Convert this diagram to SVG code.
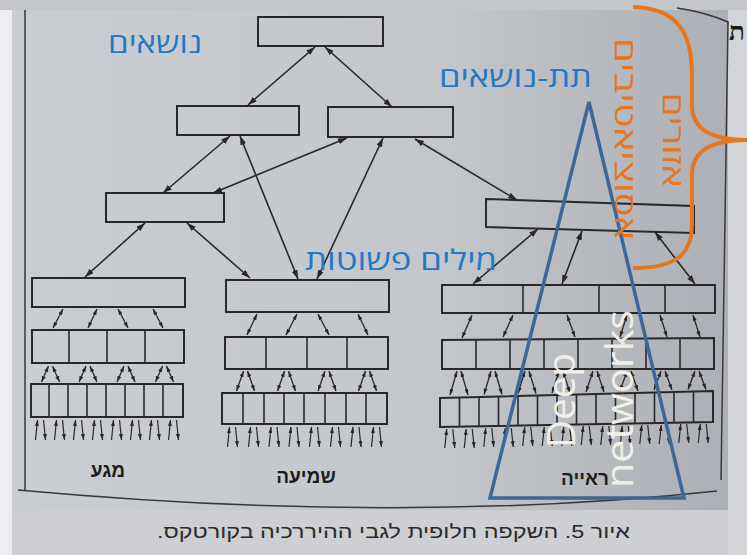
<svg xmlns="http://www.w3.org/2000/svg" width="747" height="555" viewBox="0 0 747 555">
<defs>
<linearGradient id="pg" x1="0" y1="0" x2="1" y2="0">
<stop offset="0" stop-color="#cacdd1"/>
<stop offset="0.6" stop-color="#c3c6ca"/>
<stop offset="1" stop-color="#acb0b6"/>
</linearGradient>
<marker id="ah" markerUnits="userSpaceOnUse" markerWidth="9" markerHeight="6" refX="9" refY="3" orient="auto-start-reverse"><path d="M0,0 L9,3 L0,6 z" fill="#2b2729"/></marker>
<marker id="as" markerUnits="userSpaceOnUse" markerWidth="6" markerHeight="4" refX="6" refY="2" orient="auto-start-reverse"><path d="M0,0 L6,2 L0,4 z" fill="#2b2729"/></marker>
<style>
.bx{fill:none;stroke:#2b2729;stroke-width:2}
.dv{stroke:#2b2729;stroke-width:1.6}
.cn{stroke:#2b2729;stroke-width:1.6;marker-start:url(#ah);marker-end:url(#ah)}
.sm{stroke:#2b2729;stroke-width:1.3;marker-start:url(#as);marker-end:url(#as)}
.one{stroke:#2b2729;stroke-width:1.2;marker-end:url(#as)}
.blue{font-family:"Open Sans","DejaVu Sans","Liberation Sans",sans-serif;fill:#1f79c6;font-size:28px}
.org{font-family:"Open Sans","DejaVu Sans","Liberation Sans",sans-serif;fill:#e8761e;font-size:28px}
.lab{font-family:"Liberation Sans","DejaVu Sans",sans-serif;font-weight:bold;fill:#1e1c1d;font-size:19px;text-anchor:middle}
.cap{font-family:"Liberation Sans","DejaVu Sans",sans-serif;fill:#2a2a2a;font-size:19px}
.dn{font-family:"Open Sans","DejaVu Sans",sans-serif;fill:#f2efe6;font-size:39px}
</style>
</defs>
<g id="background">
<rect width="747" height="555" fill="#cdcfd2"/>
<rect x="12" y="10" width="716" height="500" fill="url(#pg)"/>
<rect x="0" y="10" width="12" height="545" fill="#eeeef0"/>
<rect x="0" y="0" width="747" height="10" fill="#c4c6ca"/>
<rect x="728" y="10" width="19" height="545" fill="#d2d4d7"/>
<line x1="25" y1="10" x2="25" y2="490" stroke="#3a3638" stroke-width="1.5"/>
<path d="M18,490 Q400,525 717,491" fill="none" stroke="#3a3638" stroke-width="1.5"/>
<path d="M677,8 Q705,12 728,22 L721,480" fill="none" stroke="#3a3638" stroke-width="1.5"/>
<text x="729" y="40" font-family="Liberation Serif,serif" font-weight="bold" font-size="26" fill="#1a1a1a">ת</text>
</g>
<g id="connectors">
<line class="cn" x1="315" y1="47" x2="248" y2="105"/>
<line class="cn" x1="325" y1="47" x2="392" y2="107"/>
<line class="cn" x1="230" y1="136" x2="163" y2="193"/>
<line class="cn" x1="240" y1="136" x2="298" y2="279"/>
<line class="cn" x1="347" y1="138" x2="213" y2="193"/>
<line class="cn" x1="383" y1="138" x2="317" y2="279"/>
<line class="cn" x1="415" y1="139" x2="517" y2="200"/>
<line class="cn" x1="145" y1="223" x2="85" y2="277"/>
<line class="cn" x1="187" y1="223" x2="250" y2="278"/>
<line class="cn" x1="538" y1="229" x2="473" y2="284"/>
<line class="cn" x1="582" y1="231" x2="562" y2="284"/>
<line class="cn" x1="655" y1="232" x2="695" y2="284"/>
<line class="sm" x1="63" y1="309" x2="53" y2="328"/>
<line class="sm" x1="97" y1="309" x2="88" y2="328"/>
<line class="sm" x1="118" y1="309" x2="128" y2="328"/>
<line class="sm" x1="153" y1="309" x2="163" y2="328"/>
<line class="sm" x1="48.5" y1="366" x2="41.5" y2="382"/><line class="sm" x1="52.5" y1="366" x2="59.5" y2="382"/>
<line class="sm" x1="86" y1="366" x2="79" y2="382"/><line class="sm" x1="90" y1="366" x2="97" y2="382"/>
<line class="sm" x1="124" y1="366" x2="117" y2="382"/><line class="sm" x1="128" y1="366" x2="135" y2="382"/>
<line class="sm" x1="162.5" y1="366" x2="155.5" y2="382"/><line class="sm" x1="166.5" y1="366" x2="173.5" y2="382"/>
<line class="one" x1="35.5" y1="440" x2="37.5" y2="420"/><line class="one" x1="43.5" y1="420" x2="45.5" y2="440"/>
<line class="one" x1="54.5" y1="440" x2="56.5" y2="420"/><line class="one" x1="62.5" y1="420" x2="64.5" y2="440"/>
<line class="one" x1="73.5" y1="440" x2="75.5" y2="420"/><line class="one" x1="81.5" y1="420" x2="83.5" y2="440"/>
<line class="one" x1="92.5" y1="440" x2="94.5" y2="420"/><line class="one" x1="100.5" y1="420" x2="102.5" y2="440"/>
<line class="one" x1="111.5" y1="440" x2="113.5" y2="420"/><line class="one" x1="119.5" y1="420" x2="121.5" y2="440"/>
<line class="one" x1="130.5" y1="440" x2="132.5" y2="420"/><line class="one" x1="138.5" y1="420" x2="140.5" y2="440"/>
<line class="one" x1="149.5" y1="440" x2="151.5" y2="420"/><line class="one" x1="157.5" y1="420" x2="159.5" y2="440"/>
<line class="one" x1="168.5" y1="440" x2="170.5" y2="420"/><line class="one" x1="176.5" y1="420" x2="178.5" y2="440"/>
<line class="sm" x1="257" y1="314" x2="247" y2="335"/>
<line class="sm" x1="297" y1="314" x2="286" y2="335"/>
<line class="sm" x1="318" y1="314" x2="329" y2="335"/>
<line class="sm" x1="358" y1="314" x2="368" y2="335"/>
<line class="sm" x1="243.5" y1="371" x2="236.5" y2="391"/><line class="sm" x1="247.5" y1="371" x2="254.5" y2="391"/>
<line class="sm" x1="284.5" y1="371" x2="277.5" y2="391"/><line class="sm" x1="288.5" y1="371" x2="295.5" y2="391"/>
<line class="sm" x1="325" y1="371" x2="318" y2="391"/><line class="sm" x1="329" y1="371" x2="336" y2="391"/>
<line class="sm" x1="365.5" y1="371" x2="358.5" y2="391"/><line class="sm" x1="369.5" y1="371" x2="376.5" y2="391"/>
<line class="one" x1="227.5" y1="447" x2="229.5" y2="427"/><line class="one" x1="235.5" y1="427" x2="237.5" y2="447"/>
<line class="one" x1="248.5" y1="447" x2="250.5" y2="427"/><line class="one" x1="256.5" y1="427" x2="258.5" y2="447"/>
<line class="one" x1="269" y1="447" x2="271" y2="427"/><line class="one" x1="277" y1="427" x2="279" y2="447"/>
<line class="one" x1="289" y1="447" x2="291" y2="427"/><line class="one" x1="297" y1="427" x2="299" y2="447"/>
<line class="one" x1="309.5" y1="447" x2="311.5" y2="427"/><line class="one" x1="317.5" y1="427" x2="319.5" y2="447"/>
<line class="one" x1="330.5" y1="447" x2="332.5" y2="427"/><line class="one" x1="338.5" y1="427" x2="340.5" y2="447"/>
<line class="one" x1="351" y1="447" x2="353" y2="427"/><line class="one" x1="359" y1="427" x2="361" y2="447"/>
<line class="one" x1="371.5" y1="447" x2="373.5" y2="427"/><line class="one" x1="379.5" y1="427" x2="381.5" y2="447"/>
<line class="sm" x1="472" y1="315" x2="462" y2="338"/>
<line class="sm" x1="513" y1="315" x2="503" y2="337"/>
<line class="sm" x1="567" y1="315" x2="575" y2="337"/>
<line class="sm" x1="627" y1="315" x2="620" y2="337"/>
<line class="sm" x1="660" y1="315" x2="667" y2="337"/>
<line class="sm" x1="693" y1="315" x2="700" y2="337"/>
<line class="sm" x1="457" y1="371" x2="450" y2="395"/><line class="sm" x1="461" y1="371" x2="468" y2="395"/>
<line class="sm" x1="491" y1="371" x2="484" y2="394.5"/><line class="sm" x1="495" y1="371" x2="502" y2="394.5"/>
<line class="sm" x1="525" y1="371" x2="518" y2="393.5"/><line class="sm" x1="529" y1="371" x2="536" y2="393.5"/>
<line class="sm" x1="559" y1="371" x2="552" y2="393"/><line class="sm" x1="563" y1="371" x2="570" y2="393"/>
<line class="sm" x1="593" y1="371" x2="586" y2="392"/><line class="sm" x1="597" y1="371" x2="604" y2="392"/>
<line class="sm" x1="627" y1="371" x2="620" y2="391"/><line class="sm" x1="631" y1="371" x2="638" y2="391"/>
<line class="sm" x1="661" y1="371" x2="654" y2="390"/><line class="sm" x1="665" y1="371" x2="672" y2="390"/>
<line class="sm" x1="695" y1="371" x2="688" y2="389.5"/><line class="sm" x1="699" y1="371" x2="706" y2="389.5"/>
<line class="one" x1="444.75" y1="448" x2="446.75" y2="429"/><line class="one" x1="452.75" y1="429" x2="454.75" y2="448"/>
<line class="one" x1="464.25" y1="448" x2="466.25" y2="429"/><line class="one" x1="472.25" y1="429" x2="474.25" y2="448"/>
<line class="one" x1="483.75" y1="447" x2="485.75" y2="428"/><line class="one" x1="491.75" y1="428" x2="493.75" y2="447"/>
<line class="one" x1="503.25" y1="447" x2="505.25" y2="428"/><line class="one" x1="511.25" y1="428" x2="513.25" y2="447"/>
<line class="one" x1="522.75" y1="446" x2="524.75" y2="427"/><line class="one" x1="530.75" y1="427" x2="532.75" y2="446"/>
<line class="one" x1="542.25" y1="446" x2="544.25" y2="427"/><line class="one" x1="550.25" y1="427" x2="552.25" y2="446"/>
<line class="one" x1="561.75" y1="446" x2="563.75" y2="427"/><line class="one" x1="569.75" y1="427" x2="571.75" y2="446"/>
<line class="one" x1="581.25" y1="445" x2="583.25" y2="426"/><line class="one" x1="589.25" y1="426" x2="591.25" y2="445"/>
<line class="one" x1="600.75" y1="445" x2="602.75" y2="426"/><line class="one" x1="608.75" y1="426" x2="610.75" y2="445"/>
<line class="one" x1="620.25" y1="445" x2="622.25" y2="426"/><line class="one" x1="628.25" y1="426" x2="630.25" y2="445"/>
<line class="one" x1="639.75" y1="444" x2="641.75" y2="425"/><line class="one" x1="647.75" y1="425" x2="649.75" y2="444"/>
<line class="one" x1="659.25" y1="444" x2="661.25" y2="425"/><line class="one" x1="667.25" y1="425" x2="669.25" y2="444"/>
<line class="one" x1="678.75" y1="443" x2="680.75" y2="424"/><line class="one" x1="686.75" y1="424" x2="688.75" y2="443"/>
<line class="one" x1="698.25" y1="443" x2="700.25" y2="424"/><line class="one" x1="706.25" y1="424" x2="708.25" y2="443"/>
</g>
<g id="node-top"><rect class="bx" x="258" y="17" width="125" height="29"/></g>
<g id="node-l2-left"><rect class="bx" x="177" y="106" width="122" height="29"/></g>
<g id="node-l2-right"><rect class="bx" x="328" y="107" width="125" height="30"/></g>
<g id="node-l3-left"><rect class="bx" x="106" y="193" width="118" height="29"/></g>
<g id="node-l3-right"><polygon class="bx" points="486,199 694,206 694,233 486,227"/></g>
<g id="node-touch">
<rect class="bx" x="32" y="278" width="153" height="29"/>
<rect class="bx" x="32" y="330" width="152" height="33"/>
<line class="dv" x1="69" y1="330" x2="69" y2="363"/><line class="dv" x1="107" y1="330" x2="107" y2="363"/><line class="dv" x1="145" y1="330" x2="145" y2="363"/>
<rect class="bx" x="31" y="384" width="152" height="33"/>
<line class="dv" x1="49" y1="384" x2="49" y2="417"/><line class="dv" x1="68" y1="384" x2="68" y2="417"/><line class="dv" x1="87" y1="384" x2="87" y2="417"/><line class="dv" x1="106" y1="384" x2="106" y2="417"/><line class="dv" x1="125" y1="384" x2="125" y2="417"/><line class="dv" x1="144" y1="384" x2="144" y2="417"/><line class="dv" x1="163" y1="384" x2="163" y2="417"/>
<text class="lab" x="108" y="477">מגע</text>
</g>
<g id="node-hearing">
<rect class="bx" x="226" y="280" width="163" height="32"/>
<rect class="bx" x="225" y="337" width="163" height="32"/>
<line class="dv" x1="266" y1="337" x2="266" y2="369"/><line class="dv" x1="307" y1="337" x2="307" y2="369"/><line class="dv" x1="347" y1="337" x2="347" y2="369"/>
<rect class="bx" x="222" y="393" width="165" height="31"/>
<line class="dv" x1="243" y1="393" x2="243" y2="424"/><line class="dv" x1="264" y1="393" x2="264" y2="424"/><line class="dv" x1="284" y1="393" x2="284" y2="424"/><line class="dv" x1="304" y1="393" x2="304" y2="424"/><line class="dv" x1="325" y1="393" x2="325" y2="424"/><line class="dv" x1="346" y1="393" x2="346" y2="424"/><line class="dv" x1="366" y1="393" x2="366" y2="424"/>
<text class="lab" x="306" y="483">שמיעה</text>
</g>
<g id="node-vision">
<rect class="bx" x="442" y="285" width="273" height="28"/>
<line class="dv" x1="523" y1="285" x2="523" y2="313"/><line class="dv" x1="599" y1="285" x2="599" y2="313"/><line class="dv" x1="665" y1="285" x2="665" y2="313"/>
<polygon class="bx" points="442,340 714,338 714,369 442,369"/>
<line class="dv" x1="476" y1="340" x2="476" y2="369"/><line class="dv" x1="510" y1="340" x2="510" y2="369"/><line class="dv" x1="544" y1="339" x2="544" y2="369"/><line class="dv" x1="578" y1="339" x2="578" y2="369"/><line class="dv" x1="612" y1="339" x2="612" y2="369"/><line class="dv" x1="646" y1="338" x2="646" y2="369"/><line class="dv" x1="680" y1="338" x2="680" y2="369"/>
<polygon class="bx" points="440,398 713,391 713,422 440,427"/>
<line class="dv" x1="459.5" y1="397.5" x2="459.5" y2="426.6"/><line class="dv" x1="479" y1="397" x2="479" y2="426.3"/><line class="dv" x1="498.5" y1="396.5" x2="498.5" y2="425.9"/><line class="dv" x1="518" y1="396" x2="518" y2="425.6"/><line class="dv" x1="537.5" y1="395.5" x2="537.5" y2="425.2"/><line class="dv" x1="557" y1="395" x2="557" y2="424.9"/><line class="dv" x1="576.5" y1="394.5" x2="576.5" y2="424.5"/><line class="dv" x1="596" y1="394" x2="596" y2="424.1"/><line class="dv" x1="615.5" y1="393.5" x2="615.5" y2="423.8"/><line class="dv" x1="635" y1="393" x2="635" y2="423.4"/><line class="dv" x1="654.5" y1="392.5" x2="654.5" y2="423.1"/><line class="dv" x1="674" y1="392" x2="674" y2="422.7"/><line class="dv" x1="693.5" y1="391.5" x2="693.5" y2="422.4"/>
<text class="lab" x="585" y="485">ראייה</text>
</g>
<g id="caption">
<text class="cap" x="630" y="538" direction="rtl" text-anchor="start" textLength="473" lengthAdjust="spacingAndGlyphs">איור 5. השקפה חלופית לגבי ההיררכיה בקורטקס.</text>
</g>
<g id="annotations">
<text class="blue" x="108" y="53" textLength="94" lengthAdjust="spacingAndGlyphs">נושאים</text>
<text class="blue" x="439" y="87" textLength="153" lengthAdjust="spacingAndGlyphs">תת-נושאים</text>
<text class="blue" x="305" y="270" textLength="192" lengthAdjust="spacingAndGlyphs">מילים פשוטות</text>
<polygon points="589,102 684,498 490,498" fill="none" stroke="#3d6699" stroke-width="3.5" stroke-linejoin="miter"/>
<text class="dn" transform="translate(575,448) rotate(-90)" textLength="95" lengthAdjust="spacingAndGlyphs">Deep</text>
<text class="dn" transform="translate(633,488) rotate(-90)" textLength="178" lengthAdjust="spacingAndGlyphs">networks</text>
<path d="M633,7 C675,8 692,30 692,75 L692,105 C692,128 710,140 747,140 C710,140 692,152 692,175 L692,225 C692,255 675,268 633,268" fill="none" stroke="#e8761e" stroke-width="4"/>
<text class="org" transform="translate(615,139) rotate(90)" text-anchor="middle" textLength="202" lengthAdjust="spacingAndGlyphs">אסוציאטיבים</text>
<text class="org" transform="translate(663,140) rotate(90)" text-anchor="middle" textLength="95" lengthAdjust="spacingAndGlyphs">אזורים</text>
</g>
</svg>
